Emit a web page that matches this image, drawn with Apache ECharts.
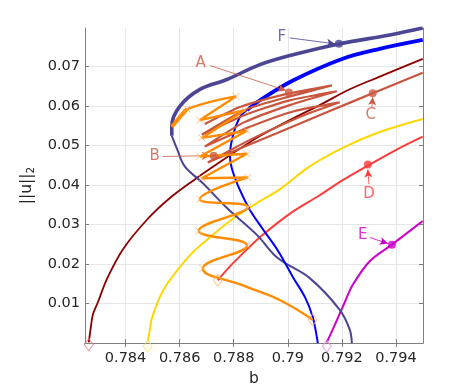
<!DOCTYPE html>
<html><head><meta charset="utf-8">
<script src="https://cdn.jsdelivr.net/npm/echarts@6/dist/echarts.min.js"></script>
<style>html,body{margin:0;padding:0;background:#fff}#c{width:468px;height:392px}</style>
</head><body><div id="c"></div>
<script>
// ---- axes ----
const xRange = [0.7825, 0.795];
const yRange = [0, 0.0797];
const xTicks = [0.784, 0.786, 0.788, 0.79, 0.792, 0.794];
const yTicks = [0.01, 0.02, 0.03, 0.04, 0.05, 0.06, 0.07];
const xTitle = 'b';

// ---- curves [b, ||u||_2] ----
const darkRedCurve = [[0.78264,0.0002],[0.78272,0.0042],[0.78279,0.0072],[0.78298,0.0104],[0.78331,0.0162],[0.7839,0.0237],[0.78479,0.0312],[0.78564,0.0367],[0.78656,0.0414],[0.7873,0.0449],[0.78823,0.0492],[0.78897,0.0524],[0.79007,0.0564],[0.79118,0.0602],[0.79229,0.0642],[0.7934,0.0674],[0.79499,0.0719]];
const navyUpper = [[0.79499,0.07968],[0.79377,0.07793],[0.79189,0.07568],[0.79019,0.07293],[0.78897,0.07043],[0.78775,0.06668],[0.78675,0.06418],[0.78601,0.05993],[0.78571,0.05493],[0.78571,0.05243]];
const navyLower = [[0.78571,0.05243],[0.7859,0.04918],[0.78619,0.04468],[0.78686,0.04043],[0.78775,0.03418],[0.78885,0.02743],[0.78963,0.0215],[0.79081,0.01643],[0.79192,0.00843],[0.79229,0.00343],[0.79237,0.0]];
const blueUpper = [[0.79499,0.07668],[0.7934,0.07443],[0.79203,0.07193],[0.79019,0.06643],[0.78897,0.06143],[0.78849,0.05893]];
const blueLower = [[0.78849,0.05893],[0.78823,0.05718],[0.78797,0.05243],[0.78786,0.04743],[0.78793,0.04418],[0.78823,0.03868],[0.7886,0.03368],[0.78904,0.02918],[0.78963,0.02343],[0.79019,0.01668],[0.79063,0.01168],[0.79092,0.00668],[0.79107,0.00168],[0.79111,0.0]];
const yellowCurve = [[0.78482,0.0004],[0.7849,0.0034],[0.78497,0.0062],[0.78527,0.0117],[0.78556,0.0152],[0.78638,0.0222],[0.78723,0.0274],[0.78812,0.0322],[0.78897,0.0359],[0.7897,0.0389],[0.79081,0.0447],[0.79203,0.0494],[0.7934,0.0534],[0.79499,0.0567]];
const redCurve = [[0.78741,0.0159],[0.78793,0.0199],[0.78852,0.0239],[0.78904,0.0272],[0.79007,0.0327],[0.79118,0.0374],[0.79203,0.0412],[0.79296,0.0449],[0.79396,0.0487],[0.79499,0.0522]];
const magentaCurve = [[0.79144,0.0002],[0.79166,0.0034],[0.79211,0.0104],[0.7924,0.0147],[0.79303,0.0207],[0.79385,0.0249],[0.79499,0.0309]];
const brownCurve = [[0.79499,0.0684],[0.79314,0.0632],[0.79155,0.0587],[0.7897,0.0534],[0.78823,0.0492],[0.78704,0.0457],
  [0.7886,0.0514],[0.79044,0.0572],[0.79192,0.0609],
  [0.79026,0.0587],[0.7886,0.0547],[0.78693,0.0497],
  [0.78834,0.0557],[0.79007,0.0602],[0.79181,0.0637],
  [0.79007,0.0614],[0.78841,0.0577],[0.78682,0.0527],
  [0.78849,0.0592],[0.79007,0.0624],[0.79163,0.0652],
  [0.78989,0.0629],[0.78823,0.0597],[0.78693,0.0554]];
const orangeCurve = [[0.79092,0.0059],[0.7897,0.0109],[0.78841,0.0144],[0.78686,0.0189],[0.78849,0.0247],[0.78671,0.0284],[0.78852,0.0344],[0.78675,0.0364],[0.78852,0.0419],[0.78682,0.0417],[0.78849,0.0479],[0.78675,0.0472],[0.78849,0.0537],[0.78682,0.0519],[0.78841,0.0589],[0.78675,0.0564],[0.78808,0.0624],[0.78627,0.0592],[0.78601,0.0572],[0.78571,0.0547]];
const orangeThick = [[0.78627,0.0592],[0.78601,0.0572],[0.78571,0.0547]];
const orangeTurns = [[0.78686,0.0189],[0.78849,0.0247],[0.78671,0.0284],[0.78852,0.0344],[0.78675,0.0364],[0.78852,0.0419],[0.78682,0.0417],[0.78849,0.0479],[0.78675,0.0472],[0.78849,0.0537],[0.78682,0.0519],[0.78841,0.0589],[0.78675,0.0564],[0.78808,0.0624],[0.78627,0.0592]];

// start markers (hollow diamonds)
const startPoints = [[0.78264,-0.0004],[0.78482,-0.0008],[0.79144,-0.0008],[0.78741,0.0159],[0.79092,0.0059]];
const startColors = ['#d98080','#ffe070','#e58ae5','#ffb870','#ffb870'];

// annotations
const annoNames = ['A','B','C','D','E','F'];
const annoColors = ['#cd5a40','#cd5a40','#cd5a40','#ff3b3b','#cc00cc','#4b4593'];
const annoTextPos = [[0.78678,0.0709],[0.78508,0.0472],[0.79307,0.0577],[0.793,0.0377],[0.79277,0.0272],[0.78978,0.0774]];
const annoFrom = [[0.78712,0.0702],[0.78538,0.0472],[0.79311,0.0597],[0.793,0.0402],[0.79303,0.0267],[0.79007,0.0772]];
const annoTo = [[0.78993,0.0639],[0.78712,0.0474],[0.79314,0.0622],[0.79296,0.0439],[0.7937,0.0252],[0.79174,0.0757]];
const annoDots = [[0.79004,0.0634],[0.78726,0.0474],[0.79314,0.0632],[0.79296,0.0452],[0.79385,0.0249],[0.79189,0.0757]];

const FONT = 'DejaVu Sans';
const TXT = '#262626';
const AX = '#808080';

function curve(data, color, width, z, smooth) {
  return {type:'line', data:data, showSymbol:false, symbol:'none', smooth:smooth===undefined?0.35:smooth,
    lineStyle:{color:color, width:width}, z:z||2, silent:true};
}

const series = [
  curve(darkRedCurve, '#8b0000', 1.8, 3),
  curve(yellowCurve, '#ffd700', 2, 3),
  curve(redCurve, '#ff3b3b', 2, 3),
  curve(magentaCurve, '#cc00cc', 2, 3),
  curve(navyLower, '#4b4593', 2, 3),
  curve(navyUpper, '#4b4593', 3.6, 4),
  curve(blueLower, '#0000ff', 2, 3),
  curve(blueUpper, '#0000ff', 3.8, 4),
  curve(brownCurve, '#c8553d', 2.2, 5, 0.2),
  curve(orangeCurve, '#ff8c00', 2.4, 6, 0.45),
  curve(orangeThick, '#ff8c00', 4, 6),
  {type:'scatter', data:orangeTurns, symbol:'path://M0,0L10,10M10,0L0,10', symbolSize:7,
   itemStyle:{color:'none', borderColor:'#ffb060', borderWidth:1}, z:7, silent:true},
  {type:'scatter', clip:false, silent:true, z:7,
   data: startPoints.map((p,i)=>({value:p, itemStyle:{borderColor:startColors[i]}})),
   symbol:'diamond', symbolSize:[9,12], itemStyle:{color:'rgba(255,255,255,0)', borderWidth:1}},
  {type:'line', data:[], silent:true,
   markLine:{silent:true, symbol:['none','arrow'], symbolSize:[6,8], label:{show:false}, animation:false,
     data: annoFrom.map((f,i)=>[{coord:f, lineStyle:{color:annoColors[i], width:0.8, type:'solid'}},{coord:annoTo[i]}])}},
  {type:'scatter', silent:true, z:8, symbol:'circle', symbolSize:8,
   data: annoDots.map((p,i)=>({value:p, itemStyle:{color:annoColors[i]}}))},
  {type:'scatter', silent:true, z:9, symbolSize:1, clip:false,
   data: annoTextPos.map((p,i)=>({value:p, itemStyle:{color:'rgba(0,0,0,0)'},
     label:{show:true, position:'inside', formatter:annoNames[i], color:annoColors[i], fontSize:15, fontFamily:FONT}}))}
];

const chart = echarts.init(document.getElementById('c'));
chart.setOption({
  animation:false,
  backgroundColor:'#fff',
  grid:{left:85, right:45, top:28, bottom:45, containLabel:false},
  xAxis:[
    {type:'value', min:xRange[0], max:xRange[1], position:'bottom',
     axisLine:{show:true, lineStyle:{color:AX}},
     axisTick:{show:true, inside:true, length:4, customValues:xTicks, lineStyle:{color:AX}},
     axisLabel:{customValues:xTicks, color:TXT, fontSize:14.5, fontFamily:FONT, margin:8, formatter:v=>String(+v.toFixed(4))},
     splitLine:{show:true, lineStyle:{color:'#e6e6e6', width:1}},
     name:xTitle, nameLocation:'middle', nameGap:26, nameTextStyle:{color:TXT, fontSize:15.5, fontFamily:FONT}},
    {type:'value', min:xRange[0], max:xRange[1], position:'top',
     axisLine:{show:true, lineStyle:{color:AX}},
     axisTick:{show:true, inside:true, length:4, customValues:xTicks, lineStyle:{color:AX}},
     axisLabel:{show:false}, splitLine:{show:false}}
  ],
  yAxis:[
    {type:'value', min:yRange[0], max:yRange[1], position:'left',
     axisLine:{show:true, lineStyle:{color:AX}},
     axisTick:{show:true, inside:true, length:4, customValues:yTicks, lineStyle:{color:AX}},
     axisLabel:{customValues:yTicks, color:TXT, fontSize:14.5, fontFamily:FONT, margin:5, formatter:v=>String(+v.toFixed(4))},
     splitLine:{show:true, lineStyle:{color:'#e6e6e6', width:1}},
     name:'{a|||u||}{b|2}', nameLocation:'middle', nameGap:45, nameRotate:90,
     nameTextStyle:{color:TXT, fontFamily:FONT,
       rich:{a:{fontSize:15.5, fontFamily:FONT, color:TXT, lineHeight:20, verticalAlign:'middle'},
             b:{fontSize:10.5, fontFamily:FONT, color:TXT, lineHeight:8, verticalAlign:'bottom'}}}},
    {type:'value', min:yRange[0], max:yRange[1], position:'right',
     axisLine:{show:true, lineStyle:{color:AX}},
     axisTick:{show:true, inside:true, length:4, customValues:yTicks, lineStyle:{color:AX}},
     axisLabel:{show:false}, splitLine:{show:false}}
  ],
  series:series
});
</script></body></html>
